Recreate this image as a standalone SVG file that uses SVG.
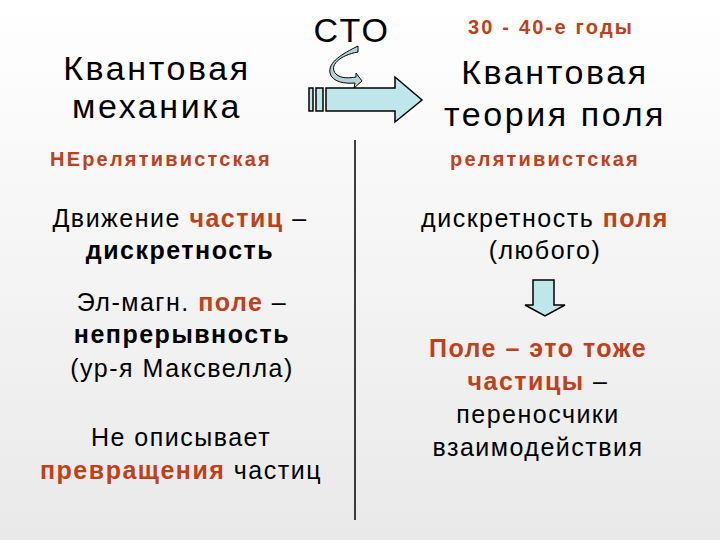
<svg xmlns="http://www.w3.org/2000/svg" width="720" height="540" viewBox="0 0 720 540">
<defs>
<linearGradient id="bg" x1="0" y1="0" x2="0" y2="1"><stop offset="0" stop-color="#ffffff"/><stop offset="1" stop-color="#e9e9e9"/></linearGradient>
<style>
text{font-family:"Liberation Sans",Arial,sans-serif;fill:#000;text-anchor:middle}
.h{font-size:34px;letter-spacing:2.6px}
.m{font-size:25px;letter-spacing:1.5px}
.s{font-size:20px;font-weight:bold;letter-spacing:2.2px}
.b{font-weight:bold}
.r{fill:#c0401a;font-weight:bold}
.ar{fill:#bfe6ea;stroke:#000;stroke-width:1.5}
</style>
</defs>
<rect width="720" height="540" fill="url(#bg)"/>
<g id="connectors">
<line x1="355" y1="140" x2="355" y2="520" stroke="#000" stroke-width="1.5"/>
<g id="big-arrow">
<rect class="ar" x="309" y="88" width="4" height="23"/>
<rect class="ar" x="316" y="88" width="7" height="23"/>
<polygon class="ar" points="326,88 395,88 395,77 422,100 395,122 395,111 326,111"/>
</g>
<path d="M358,52 C340,55 328,66 336,74 C341,79 350,78 356,77 L356,73 L362,81 L354,88 L355,83 C345,84 332,82 330,73 C328,62 342,54 358,46 Z" fill="#b6d4d4" stroke="#000" stroke-width="1"/>
<polygon class="ar" points="533,280 554,280 554,305 565,305 545,316 525,305 533,305"/>
</g>
<g id="qm"><text class="h" x="157" y="80">Квантовая</text><text class="h" x="157" y="118">механика</text></g>
<g id="sto"><text class="h" x="352" y="42">СТО</text></g>
<g id="years"><text class="s" x="551" y="34" style="fill:#c0401a">30 - 40-е годы</text></g>
<g id="qft"><text class="h" x="555" y="84">Квантовая</text><text class="h" x="555" y="126">теория поля</text></g>
<g id="nonrel"><text class="s" x="161" y="166" style="fill:#c0401a">НЕрелятивистская</text></g>
<g id="rel"><text class="s" x="545" y="166" style="fill:#c0401a">релятивистская</text></g>
<g id="l1"><text class="m" x="180" y="227">Движение <tspan class="r">частиц</tspan> –</text><text class="m b" x="180" y="259">дискретность</text></g>
<g id="l2"><text class="m" x="182" y="311">Эл-магн. <tspan class="r">поле</tspan> –</text><text class="m b" x="182" y="343">непрерывность</text><text class="m" x="182" y="377">(ур-я Максвелла)</text></g>
<g id="l3"><text class="m" x="181" y="446">Не описывает</text><text class="m" x="181" y="479"><tspan class="r">превращения</tspan> частиц</text></g>
<g id="r1"><text class="m" x="545" y="227">дискретность <tspan class="r">поля</tspan></text><text class="m" x="545" y="259">(любого)</text></g>
<g id="r2"><text class="m r" x="538" y="357">Поле – это тоже</text><text class="m" x="538" y="390"><tspan class="r">частицы</tspan> –</text><text class="m" x="538" y="423">переносчики</text><text class="m" x="538" y="456">взаимодействия</text></g>
</svg>
